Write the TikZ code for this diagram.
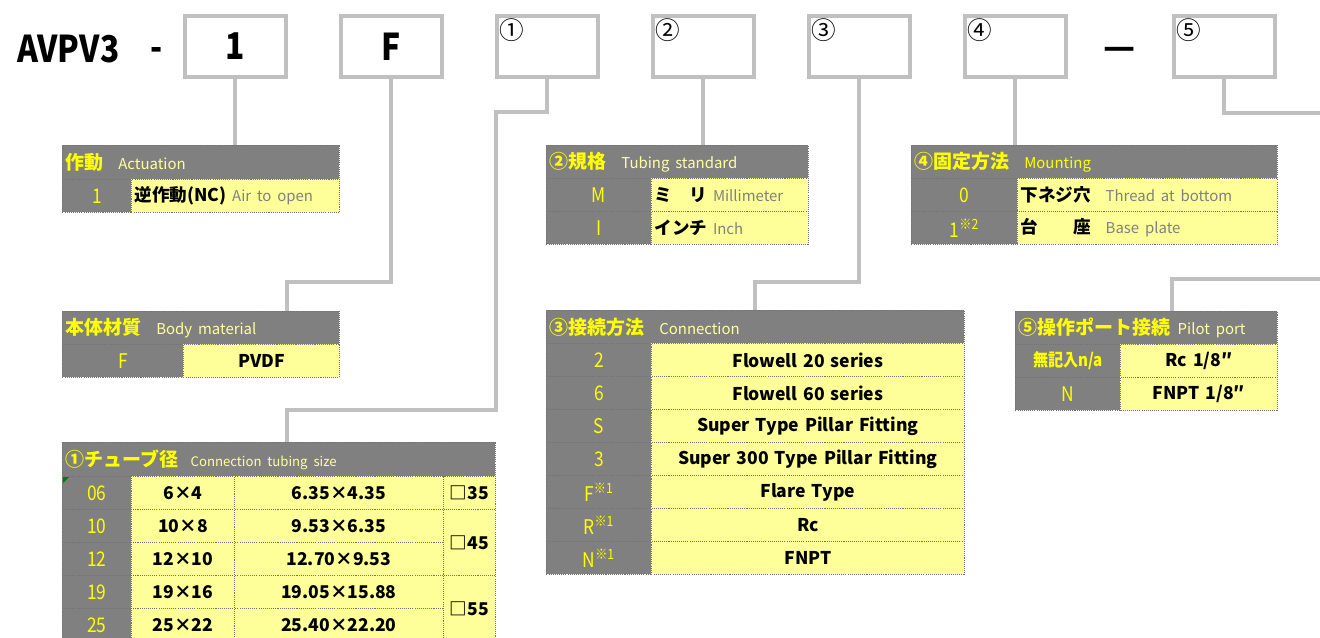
\documentclass[tikz,border=0pt]{standalone}
\usepackage{fontspec}
\setmainfont{Noto Sans CJK JP}
\newfontfamily\narrowfont[FakeStretch=0.86]{Noto Sans CJK JP}
\usepackage{xcolor}
\usetikzlibrary{positioning}

\definecolor{hdrgray}{HTML}{808080}
\definecolor{cellyel}{HTML}{FFFF99}
\definecolor{codeyel}{HTML}{FFFF00}
\definecolor{paleyel}{HTML}{FFFFA0}
\definecolor{notegray}{HTML}{808080}
\definecolor{boxgray}{HTML}{C0C0C0}

\newcommand\hjp[1]{{\fontsize{10.8}{12}\selectfont\bfseries\color{codeyel}#1}}
\newcommand\hen[1]{{\fontsize{8.5}{10}\selectfont\color{paleyel}#1}}
\newcommand\gnote[1]{{\fontsize{8.5}{10}\selectfont\mdseries\color{notegray}#1}}

% one table cell: name, x, y (px from top left), width, height, style, text
\newcommand\tcell[7]{%
  \pgfmathsetlengthmacro\cw{#4*0.02cm}%
  \pgfmathsetlengthmacro\ch{#5*0.02cm}%
  \pgfmathsetlengthmacro\tw{#4*0.02cm-0.12cm}%
  \node[#6, anchor=north west, minimum width=\cw, minimum height=\ch,
        text width=\tw, inner xsep=0.06cm, inner ysep=0pt] (#1) at (#2,#3) {#7};}

\begin{document}
\begin{tikzpicture}[
  x=0.02cm, y=-0.02cm,
  node distance=1.02cm,
  box/.style={draw=boxgray, line width=0.08cm, minimum width=2.02cm, minimum height=1.22cm,
              inner sep=0pt, font=\narrowfont\fontsize{21}{24}\selectfont\bfseries},
  numbox/.style={box, label={[anchor=north west, inner sep=0pt, xshift=0.08cm, yshift=-0.09cm,
              font=\fontsize{14}{15}\selectfont]north west:#1}},
  link/.style={draw=boxgray, line width=0.08cm},
  cellbd/.style={draw=black!55, line width=0.5pt, dash pattern=on 0.6pt off 0.6pt},
  hdr/.style={cellbd, fill=hdrgray, align=left},
  code/.style={cellbd, fill=hdrgray, align=center, text=codeyel, font=\narrowfont\fontsize{11.5}{13}\selectfont},
  val/.style={cellbd, fill=cellyel, align=center, font=\fontsize{10}{12}\selectfont\bfseries},
  vall/.style={val, align=left}
]
  \useasboundingbox (0,0) rectangle (1320,637);

  % model code row
  \node[anchor=base west, font=\narrowfont\fontsize{21}{24}\selectfont\bfseries] (model) at (11,62) {AVPV3};
  \node[anchor=base, font=\narrowfont\fontsize{21}{24}\selectfont\bfseries] (dash1) at (157,60) {-};
  \node[box, anchor=north west] (b1) at (183,14) {1};
  \node[box, right=of b1] (bF) {F};
  \node[numbox=①, right=of bF] (bA) {};
  \node[numbox=②, right=of bA] (bB) {};
  \node[numbox=③, right=of bB] (bC) {};
  \node[numbox=④, right=of bC] (bD) {};
  \node[anchor=base, font=\fontsize{20}{20}\selectfont\bfseries] (dash2) at (1120,59) {—};
  \node[numbox=⑤, anchor=north west] (bE) at (1172,14) {};

  % actuation
  \tcell{act}{62}{145}{277}{34}{hdr}{\hjp{作動}\hspace{0.3cm}\hen{Actuation}}
  \tcell{act-c}{62}{179}{69}{33}{code}{1}
  \tcell{act-v}{131}{179}{208}{33}{vall}{逆作動(NC) \gnote{Air to open}}

  % body material
  \tcell{body}{62}{311}{277}{33}{hdr}{\hjp{本体材質}\hspace{0.3cm}\hen{Body material}}
  \tcell{body-c}{62}{344}{121}{33}{code}{F}
  \tcell{body-v}{183}{344}{156}{33}{val}{PVDF}

  % tubing size
  \tcell{tube}{62}{442}{433}{34}{hdr}{\hjp{①チューブ径}\hspace{0.25cm}{\fontsize{7.5}{9}\selectfont\color{paleyel}Connection tubing size}}
  \foreach \cd/\mm/\inch [count=\i from 0] in {06/6×4/6.35×4.35, 10/10×8/9.53×6.35,
      12/12×10/12.70×9.53, 19/19×16/19.05×15.88, 25/25×22/25.40×22.20}{
    \tcell{tube-c\i}{62}{476+33*\i}{69}{33}{code}{\cd}
    \tcell{tube-m\i}{131}{476+33*\i}{103}{33}{val}{\mm}
    \tcell{tube-i\i}{234}{476+33*\i}{209}{33}{val}{\inch}
  }
  \tcell{tube-s0}{443}{476}{52}{33}{val}{□35}
  \tcell{tube-s1}{443}{509}{52}{66}{val}{□45}
  \tcell{tube-s2}{443}{575}{52}{66}{val}{□55}
  \fill[green!50!black] (63,477) -- (69,477) -- (63,483) -- cycle;

  % tubing standard
  \tcell{std}{546}{145}{262}{33}{hdr}{\hjp{②規格}\hspace{0.3cm}\hen{Tubing standard}}
  \tcell{std-c0}{546}{178}{105}{33}{code}{M}
  \tcell{std-v0}{651}{178}{157}{33}{vall}{ミ　リ \gnote{Millimeter}}
  \tcell{std-c1}{546}{211}{105}{33}{code}{I}
  \tcell{std-v1}{651}{211}{157}{33}{vall}{インチ \gnote{Inch}}

  % mounting
  \tcell{mount}{911}{145}{366}{33}{hdr}{\hjp{④固定方法}\hspace{0.3cm}{\fontsize{8.5}{10}\selectfont\color{codeyel}Mounting}}
  \tcell{mount-c0}{911}{178}{106}{33}{code}{0}
  \tcell{mount-v0}{1017}{178}{260}{33}{vall}{下ネジ穴\hspace{0.3cm}\gnote{Thread at bottom}}
  \tcell{mount-c1}{911}{211}{106}{33}{code}{1\textsuperscript{※2}}
  \tcell{mount-v1}{1017}{211}{260}{33}{vall}{台　　座\hspace{0.3cm}\gnote{Base plate}}

  % connection
  \tcell{conn}{546}{310}{418}{33}{hdr}{\hjp{③接続方法}\hspace{0.3cm}\hen{Connection}}
  \foreach \cd/\txt [count=\i from 0] in {2/Flowell 20 series, 6/Flowell 60 series,
      S/Super Type Pillar Fitting, 3/Super 300 Type Pillar Fitting,
      F\textsuperscript{※1}/Flare Type, R\textsuperscript{※1}/Rc, N\textsuperscript{※1}/FNPT}{
    \tcell{conn-c\i}{546}{343+33*\i}{105}{33}{code}{\cd}
    \tcell{conn-v\i}{651}{343+33*\i}{313}{33}{val}{\txt}
  }

  % pilot port
  \tcell{pilot}{1015}{311}{262}{33}{hdr}{\hjp{⑤操作ポート接続}\hspace{0.15cm}\hen{Pilot port}}
  \tcell{pilot-c0}{1015}{344}{105}{33}{code}{\fontsize{10}{12}\selectfont\bfseries 無記入n/a}
  \tcell{pilot-v0}{1120}{344}{157}{33}{val}{Rc 1/8″}
  \tcell{pilot-c1}{1015}{377}{105}{33}{code}{N}
  \tcell{pilot-v1}{1120}{377}{157}{33}{val}{FNPT 1/8″}

  % leader lines
  \coordinate (out5) at (1320,113);
  \coordinate (in5) at (1320,279);
  \draw[link] (b1.south) -- (b1.south |- act.north);
  \draw[link] (bF.south) -- ++(0,203) -| ([xshift=1.73cm]body.north);
  \draw[link] (bA.south) -- ++(0,33) -- ++(-51,0) -- ++(0,298) -| ([xshift=0.17cm]tube.north);
  \draw[link] (bB.south) -- (bB.south |- std.north);
  \draw[link] (bC.south) -- ++(0,203) -| (conn.north);
  \draw[link] (bD.south) -- (bD.south |- mount.north);
  \draw[link] (bE.south) |- (out5);
  \draw[link] (in5) -| ([xshift=0.52cm]pilot.north);
\end{tikzpicture}
\end{document}
